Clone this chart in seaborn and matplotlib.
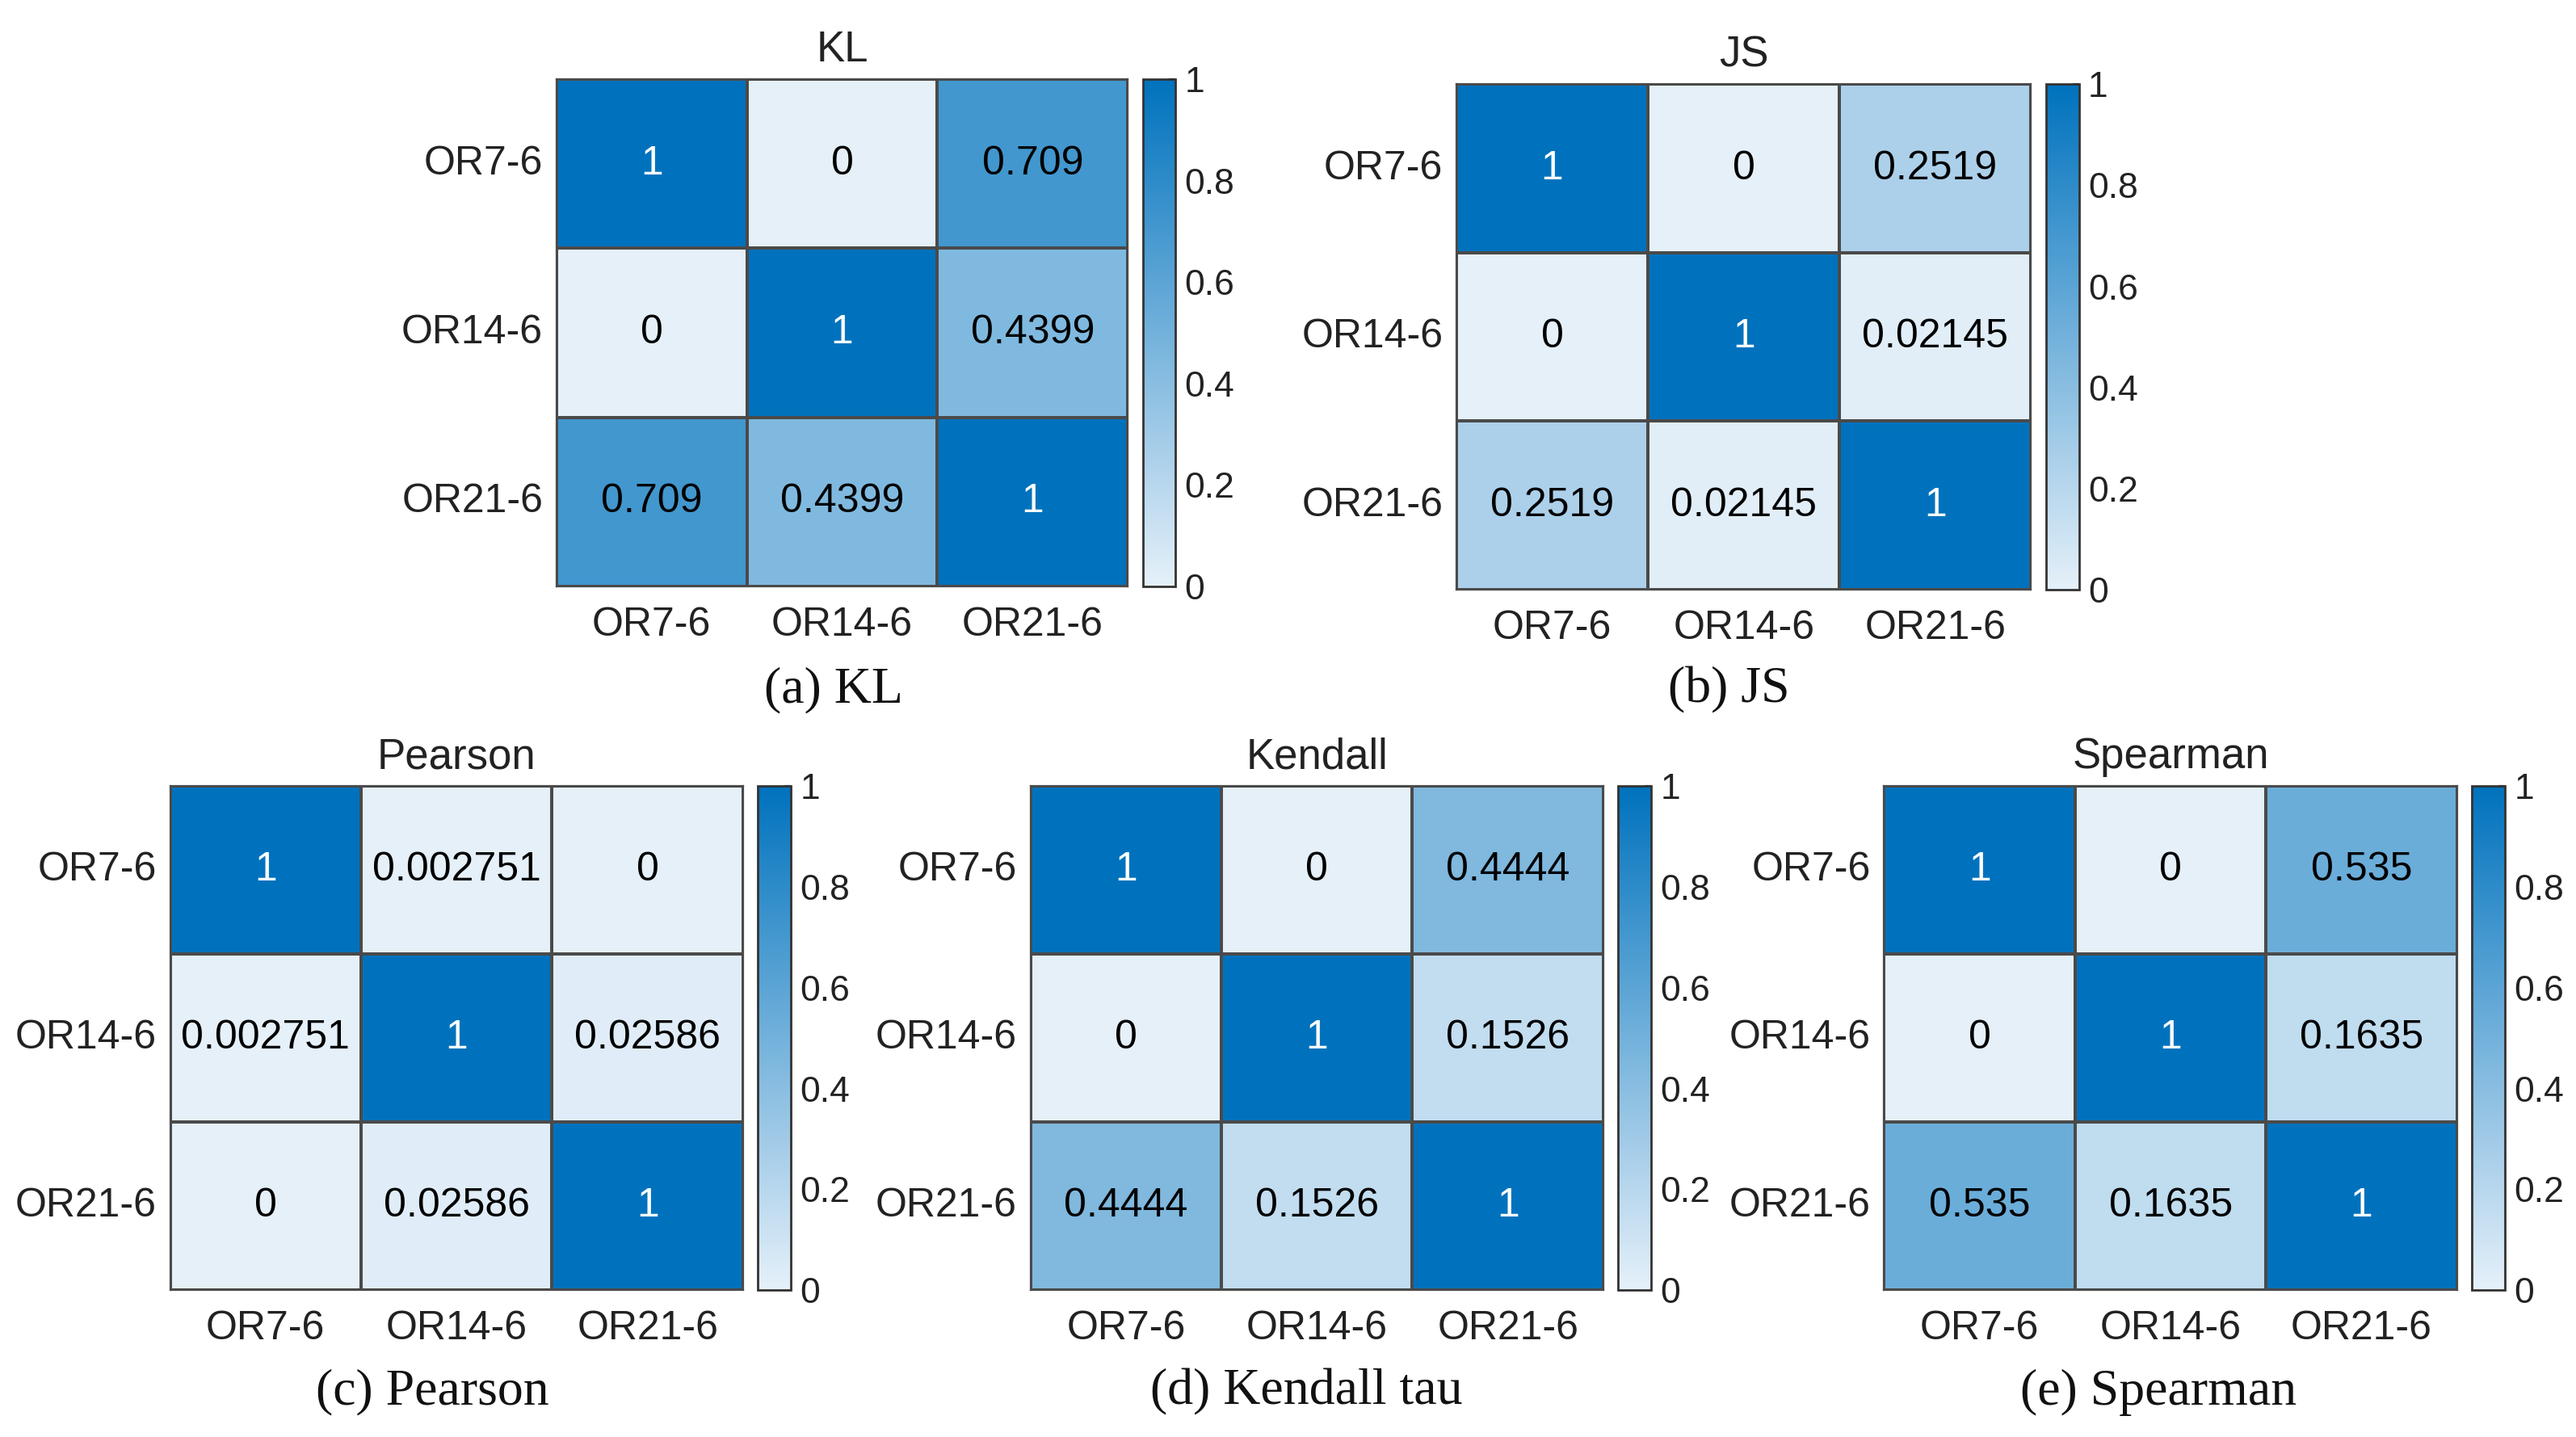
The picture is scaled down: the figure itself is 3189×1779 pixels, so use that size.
import numpy as np
import pandas as pd
import matplotlib
matplotlib.use("Agg")
import matplotlib.pyplot as plt
from matplotlib.colors import LinearSegmentedColormap
import seaborn as sns

sns.set_style("white")
plt.rcParams['font.family'] = ['Liberation Sans', 'DejaVu Sans']

labels = ["OR7-6", "OR14-6", "OR21-6"]
kl = [[1, 0, 0.709], [0, 1, 0.4399], [0.709, 0.4399, 1]]
js = [[1, 0, 0.2519], [0, 1, 0.02145], [0.2519, 0.02145, 1]]
pearson = [[1, 0.002751, 0], [0.002751, 1, 0.02586], [0, 0.02586, 1]]
kendall = [[1, 0, 0.4444], [0, 1, 0.1526], [0.4444, 0.1526, 1]]
spearman = [[1, 0, 0.535], [0, 1, 0.1635], [0.535, 0.1635, 1]]

titles = ["KL", "JS", "Pearson", "Kendall", "Spearman"]
captions = ["(a) KL", "(b) JS", "(c) Pearson", "(d) Kendall tau", "(e) Spearman"]
cbar_ticks = [0, 0.2, 0.4, 0.6, 0.8, 1]
cbar_ticklabels = ["0", "0.2", "0.4", "0.6", "0.8", "1"]

cmap = LinearSegmentedColormap.from_list(
    "mblues", [(229/255, 240/255, 249/255), (0/255, 114/255, 189/255)])

W, H = 1560.0, 870.0
# display-coordinate boxes: (left, right, top, bottom), cbar left
boxes = [
    (337, 683, 48, 355, 692),
    (882, 1230, 51, 357, 1239),
    (103, 450, 476, 781, 459),
    (624, 971, 476, 781, 980),
    (1141, 1488, 476, 781, 1497),
]
cap_pos = [(505, 418), (1047, 418), (262, 843), (791, 843), (1307, 843)]
mats = [kl, js, pearson, kendall, spearman]

fig = plt.figure(figsize=(15.945, 8.895), dpi=200)

for mat, (l, r, t, b, cl), title, cap, (cx, cy) in zip(mats, boxes, titles, captions, cap_pos):
    ax = fig.add_axes([l / W, 1 - b / H, (r - l) / W, (b - t) / H])
    cax = fig.add_axes([cl / W, 1 - b / H, 20 / W, (b - t) / H])
    df = pd.DataFrame(mat, index=labels, columns=labels)
    sns.heatmap(df, ax=ax, cbar_ax=cax, cmap=cmap, vmin=0, vmax=1,
                annot=True, fmt=".4g", annot_kws={"fontsize": 18},
                linewidths=0.8, linecolor="#4a4a4a", square=False)
    vals = np.array(mat).ravel()
    for txt, v in zip(ax.texts, vals):
        txt.set_color("white" if v > 0.85 else "black")
    ax.set_title(title, fontsize=19, pad=8, color="#222222")
    ax.tick_params(axis="both", length=0, labelsize=18, colors="#222222")
    ax.tick_params(axis="x", pad=9)
    ax.tick_params(axis="y", pad=6)
    ax.set_yticklabels(labels, rotation=0)
    ax.set_xticklabels(labels, rotation=0)
    ax.set_xlabel("")
    ax.set_ylabel("")
    for s in ax.spines.values():
        s.set_visible(True)
        s.set_color("#4a4a4a")
        s.set_linewidth(0.8)
    cb = ax.collections[0].colorbar
    cb.set_ticks(cbar_ticks)
    cb.set_ticklabels(cbar_ticklabels)
    cb.outline.set_visible(True)
    cb.outline.set_edgecolor("#333333")
    cb.outline.set_linewidth(1.0)
    cax.tick_params(direction="in", length=3, width=0.8, labelsize=16,
                    colors="#222222", pad=4)
    fig.text(cx / W, 1 - cy / H, cap, ha="center", va="center",
             fontsize=23, family=["Liberation Serif", "DejaVu Serif"], color="#111111")

fig.savefig("out.png", dpi=200, facecolor="white")
